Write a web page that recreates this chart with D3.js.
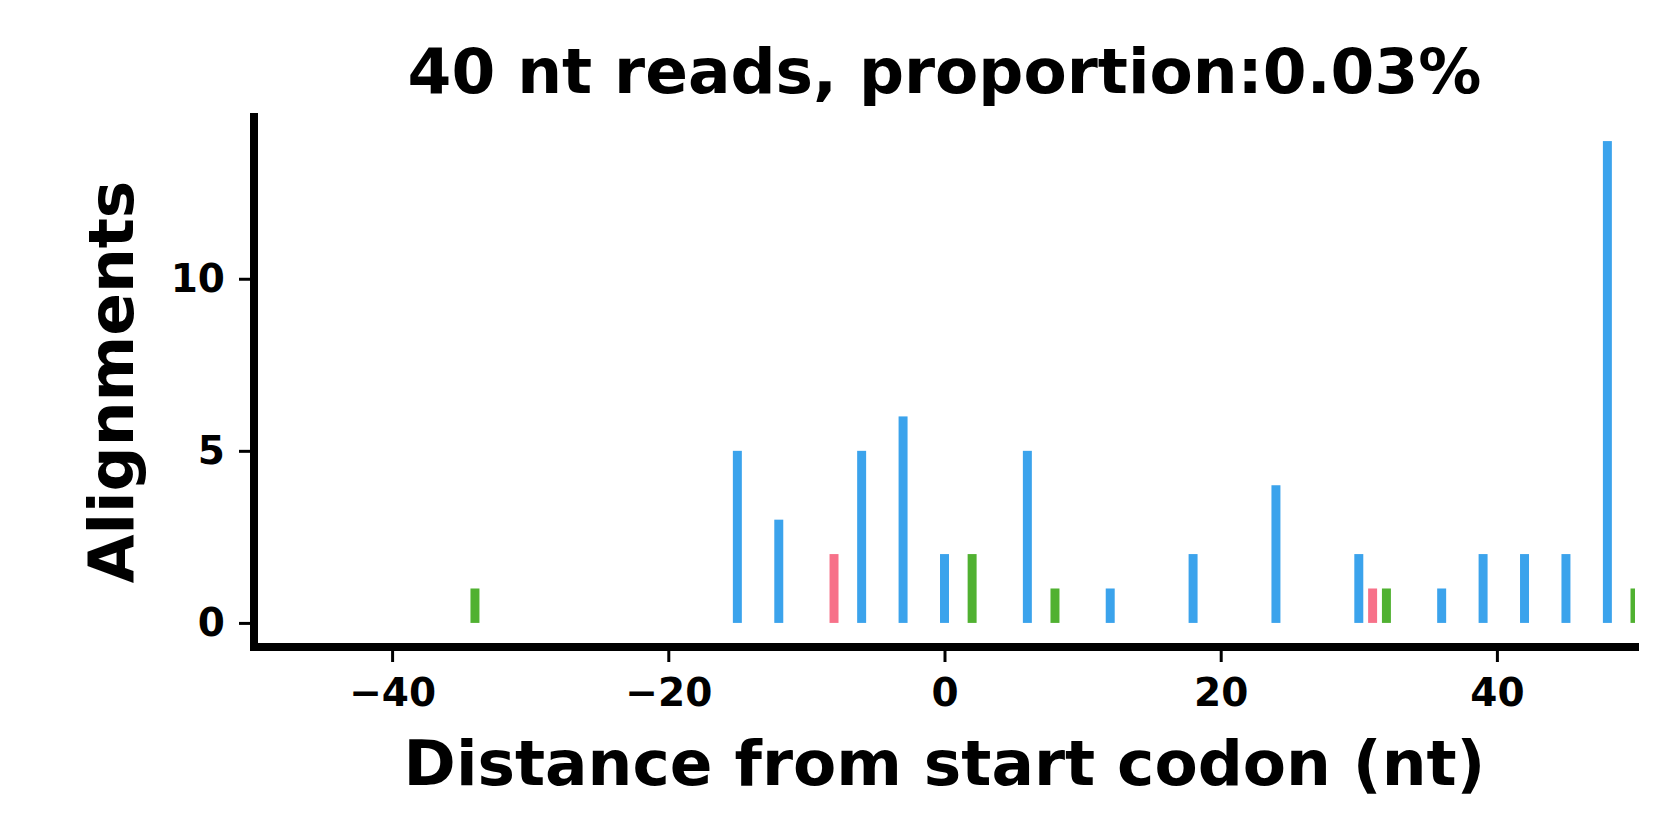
<!DOCTYPE html>
<html lang="en">
<head>
<meta charset="UTF-8"/>
<title>40 nt reads</title>
<script src="https://cdn.jsdelivr.net/npm/d3@7"></script>
<style>
  body { margin: 0; background: #fff; }
  svg text { font-family: "DejaVu Sans", sans-serif; font-weight: bold; fill: #000; }
</style>
</head>
<body>
<script>
var w = 1680;
var h = 840;

// distance from start codon (nt) and alignment counts
var positions = [-34, -15, -12, -8, -6, -3, 0, 2, 6, 8, 12, 18, 24, 30, 31, 32, 36, 39, 42, 45, 48, 50];
var counts    = [1, 5, 3, 2, 5, 6, 2, 2, 5, 1, 1, 2, 4, 2, 1, 1, 1, 2, 2, 2, 14, 1];
var frameColors = ["#3ba3ec", "#f77189", "#50b131"];  // frame 0, 1, 2
var xTicks = [-40, -20, 0, 20, 40];
var yTicks = [0, 5, 10];

var pLeft = 254, pRight = 1635, pTop = 117, pBottom = 647;

var x = d3.scaleLinear().domain([-50, 50]).range([pLeft, pRight]);
var y = d3.scaleLinear().domain([-0.7, 14.7]).range([pBottom, pTop]);

var svg = d3.select("body").append("svg")
  .attr("width", w)
  .attr("height", h);

svg.append("defs").append("clipPath").attr("id", "plot")
  .append("rect")
  .attr("x", pLeft).attr("y", pTop)
  .attr("width", pRight - pLeft).attr("height", pBottom - pTop);

var barW = 0.65;
var data = positions.map(function(p, i) { return { pos: p, n: counts[i] }; });

// bars
svg.append("g").attr("clip-path", "url(#plot)")
  .selectAll("rect")
  .data(data)
  .enter()
  .append("rect")
  .attr("x", function(d) { return x(d.pos - barW / 2); })
  .attr("y", function(d) { return y(d.n); })
  .attr("width", x(barW) - x(0))
  .attr("height", function(d) { return y(0) - y(d.n); })
  .attr("fill", function(d) { return frameColors[((d.pos % 3) + 3) % 3]; });

// axes
var xAxis = d3.axisBottom(x).tickValues(xTicks).tickSize(11).tickPadding(16)
  .tickFormat(function(d) { return d < 0 ? "\u2212" + Math.abs(d) : d; });
var yAxis = d3.axisLeft(y).tickValues(yTicks).tickSize(11).tickPadding(14);

var gx = svg.append("g").attr("transform", "translate(0," + (pBottom + 4) + ")").call(xAxis);
var gy = svg.append("g").attr("transform", "translate(" + (pLeft - 4) + ",0)").call(yAxis);

[gx, gy].forEach(function(g) {
  g.select(".domain").remove();
  g.selectAll(".tick line").attr("stroke", "#000").attr("stroke-width", 3);
  g.selectAll(".tick text").attr("font-size", "39px").attr("fill", "#000");
});

// spines
svg.append("line")
  .attr("x1", pLeft).attr("x2", pLeft)
  .attr("y1", pTop - 4).attr("y2", pBottom + 4)
  .attr("stroke", "#000").attr("stroke-width", 8);
svg.append("line")
  .attr("x1", pLeft - 4).attr("x2", pRight + 4)
  .attr("y1", pBottom).attr("y2", pBottom)
  .attr("stroke", "#000").attr("stroke-width", 8);

// labels
svg.append("text")
  .attr("x", (pLeft + pRight) / 2).attr("y", 93)
  .attr("text-anchor", "middle")
  .attr("font-size", "63px")
  .text("40 nt reads, proportion:0.03%");

svg.append("text")
  .attr("x", (pLeft + pRight) / 2).attr("y", 785)
  .attr("text-anchor", "middle")
  .attr("font-size", "63px")
  .text("Distance from start codon (nt)");

svg.append("text")
  .attr("transform", "translate(133," + ((pTop + pBottom) / 2) + ") rotate(-90)")
  .attr("text-anchor", "middle")
  .attr("font-size", "63px")
  .text("Alignments");
</script>
</body>
</html>
